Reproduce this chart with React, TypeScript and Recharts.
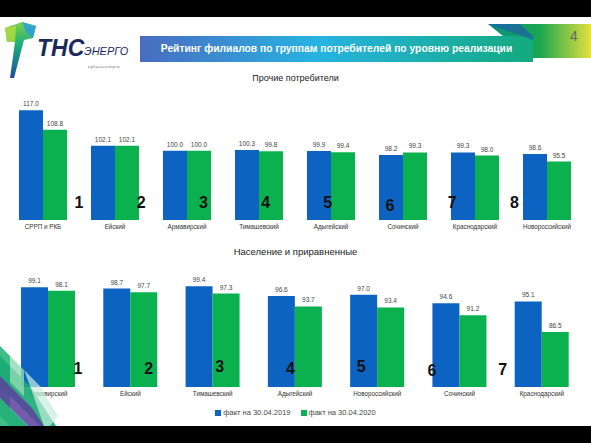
import { BarChart, Bar, XAxis, YAxis, LabelList } from "recharts";

// Прочие потребители
const otherBranches = [
  "СРРП и РКБ",
  "Ейский",
  "Армавирский",
  "Тимашевский",
  "Адыгейский",
  "Сочинский",
  "Краснодарский",
  "Новороссийский",
];
const other2019 = [117.0, 102.1, 100.0, 100.3, 99.9, 98.2, 99.3, 98.6];
const other2020 = [108.8, 102.1, 100.0, 99.8, 99.4, 99.3, 98.0, 95.5];
const otherRanks = ["1", "2", "3", "4", "5", "6", "7", "8"];

// Население и приравненные
const popBranches = [
  "Армавирский",
  "Ейский",
  "Тимашевский",
  "Адыгейский",
  "Новороссийский",
  "Сочинский",
  "Краснодарский",
];
const pop2019 = [99.1, 98.7, 99.4, 96.6, 97.0, 94.6, 95.1];
const pop2020 = [98.1, 97.7, 97.3, 93.7, 93.4, 91.2, 86.5];
const popRanks = ["1", "2", "3", "4", "5", "6", "7"];

const seriesNames = ["факт на 30.04.2019", "факт на 30.04.2020"];

const BLUE = "#0d63c2";
const GREEN = "#0bb04f";
const FONT = "Arial, 'Liberation Sans', sans-serif";

const otherData = otherBranches.map((name, i) => ({
  name,
  y2019: other2019[i],
  y2020: other2020[i],
}));
const popData = popBranches.map((name, i) => ({
  name,
  y2019: pop2019[i],
  y2020: pop2020[i],
}));

const fmt = (v: unknown) => Number(v).toFixed(1);

function GroupChart({
  data,
  width,
  height,
  top,
  domain,
  barSize,
}: {
  data: { name: string; y2019: number; y2020: number }[];
  width: number;
  height: number;
  top: number;
  domain: [number, number];
  barSize: number;
}) {
  return (
    <BarChart
      width={width}
      height={height}
      data={data}
      margin={{ top, right: 8, left: 7, bottom: 0 }}
      barGap={0}
    >
      <XAxis
        dataKey="name"
        axisLine={false}
        tickLine={false}
        tickSize={3}
        interval={0}
        height={20}
        tick={{ fontSize: 6.3, fill: "#333", fontFamily: FONT }}
      />
      <YAxis hide domain={domain} allowDataOverflow />
      <Bar dataKey="y2019" fill={BLUE} barSize={barSize} isAnimationActive={false}>
        <LabelList
          dataKey="y2019"
          position="top"
          offset={4}
          formatter={fmt}
          style={{ fontSize: 6.5, fill: "#444", fontFamily: FONT }}
        />
      </Bar>
      <Bar dataKey="y2020" fill={GREEN} barSize={barSize} isAnimationActive={false}>
        <LabelList
          dataKey="y2020"
          position="top"
          offset={4}
          formatter={fmt}
          style={{ fontSize: 6.5, fill: "#444", fontFamily: FONT }}
        />
      </Bar>
    </BarChart>
  );
}

const rankStyle: React.CSSProperties = {
  position: "absolute",
  fontFamily: FONT,
  fontWeight: "bold",
  fontSize: 16,
  color: "#111",
  transform: "translate(-50%, -50%)",
  lineHeight: 1,
};

export default function App() {
  const otherRankY = [203, 203, 203, 203, 203, 206, 203, 203];
  const popRankY = [369, 369, 367, 369, 367, 371, 370];

  return (
    <div
      style={{
        position: "relative",
        width: 591,
        height: 443,
        background: "#fff",
        overflow: "hidden",
        fontFamily: FONT,
      }}
    >
      <style>{`body{margin:0}`}</style>

      {/* header decoration */}
      <svg width={591} height={443} style={{ position: "absolute", left: 0, top: 0 }}>
        <defs>
          <linearGradient id="banner" x1="0" x2="1" y1="0" y2="0">
            <stop offset="0" stopColor="#4a6cc0" />
            <stop offset="0.45" stopColor="#27b3e2" />
            <stop offset="1" stopColor="#13aa7e" />
          </linearGradient>
          <linearGradient id="corner" x1="0" x2="1" y1="0" y2="0">
            <stop offset="0" stopColor="#0f8e86" />
            <stop offset="0.5" stopColor="#19a650" />
            <stop offset="1" stopColor="#e6df3e" />
          </linearGradient>
          <linearGradient id="logo" x1="0" x2="0" y1="0" y2="1">
            <stop offset="0" stopColor="#7fd04a" />
            <stop offset="0.4" stopColor="#1bb07a" />
            <stop offset="1" stopColor="#1d4f9c" />
          </linearGradient>
        </defs>
        <polygon points="488,24 591,24 591,58 530,58" fill="url(#corner)" />
        <polygon points="140,36 533,36 533,62 140,62" fill="url(#banner)" />
        <polygon points="488,24 520,24 533,36 533,40" fill="#1c5fa8" opacity={0.7} />
        {/* logo mark */}
        <polygon points="5,28 22,22 36,26 33,38 24,40 14,78 10,78 15,42 7,42" fill="url(#logo)" />
        <polygon points="22,22 36,26 33,38 26,32" fill="#2a9ee0" opacity={0.85} />
        <polygon points="5,28 16,26 15,42 7,42" fill="#b6dd3c" opacity={0.8} />
      </svg>

      <div
        style={{
          position: "absolute",
          left: 140,
          top: 36,
          width: 393,
          height: 26,
          lineHeight: "26px",
          textAlign: "center",
          color: "#fff",
          fontWeight: "bold",
          fontSize: 10.3,
        }}
      >
        Рейтинг филиалов по группам потребителей по уровню реализации
      </div>
      <div style={{ position: "absolute", left: 570, top: 28, fontSize: 14, color: "#666" }}>4</div>

      <div
        style={{
          position: "absolute",
          left: 37,
          top: 37,
          fontSize: 23,
          fontWeight: "bold",
          fontStyle: "italic",
          color: "#1b2a5c",
          lineHeight: 1,
        }}
      >
        ТНС
      </div>
      <div
        style={{
          position: "absolute",
          left: 84,
          top: 46,
          fontSize: 11,
          fontStyle: "italic",
          color: "#1b2a5c",
          lineHeight: 1,
        }}
      >
        ЭНЕРГО
      </div>
      <div
        style={{
          position: "absolute",
          left: 88,
          top: 65,
          fontSize: 4,
          color: "#666",
          letterSpacing: 0.6,
          lineHeight: 1,
        }}
      >
        кубаньэнерго
      </div>

      {/* black frame */}
      <div style={{ position: "absolute", left: 0, top: 0, width: 591, height: 17, background: "#000" }} />
      <div style={{ position: "absolute", left: 0, top: 426, width: 591, height: 17, background: "#000" }} />

      {/* top chart */}
      <div
        style={{
          position: "absolute",
          left: 0,
          top: 73,
          width: 591,
          textAlign: "center",
          fontSize: 9,
          color: "#222",
        }}
      >
        Прочие потребители
      </div>
      <div style={{ position: "absolute", left: 0, top: 0 }}>
        <GroupChart data={otherData} width={591} height={240} top={103} domain={[71, 120]} barSize={24} />
      </div>
      {otherRanks.map((r, i) => (
        <div key={`o${r}`} style={{ ...rankStyle, left: 79 + i * 62.2, top: otherRankY[i] }}>
          {r}
        </div>
      ))}

      {/* bottom chart */}
      <div
        style={{
          position: "absolute",
          left: 0,
          top: 246,
          width: 591,
          textAlign: "center",
          fontSize: 9.5,
          color: "#222",
        }}
      >
        Население и приравненные
      </div>
      <div style={{ position: "absolute", left: 0, top: 240 }}>
        <GroupChart data={popData} width={591} height={167} top={44} domain={[71, 100]} barSize={27} />
      </div>
      {popRanks.map((r, i) => (
        <div key={`p${r}`} style={{ ...rankStyle, left: 78 + i * 70.8, top: popRankY[i] }}>
          {r}
        </div>
      ))}

      {/* legend */}
      <div
        style={{
          position: "absolute",
          left: 0,
          top: 407,
          width: 591,
          display: "flex",
          justifyContent: "center",
          gap: 10,
          fontSize: 7.5,
          color: "#444",
          lineHeight: "12px",
        }}
      >
        {seriesNames.map((s, i) => (
          <span key={s} style={{ display: "flex", alignItems: "center" }}>
            <span
              style={{
                display: "inline-block",
                width: 6,
                height: 6,
                marginRight: 2,
                background: i === 0 ? BLUE : GREEN,
              }}
            />
            {s}
          </span>
        ))}
      </div>

      {/* bottom-left decoration */}
      <svg width={70} height={80} style={{ position: "absolute", left: 0, top: 346 }}>
        <polygon points="0,0 10,10 10,80 0,80" fill="#3fbf85" />
        <polygon points="0,10 30,40 56,80 40,80 0,40" fill="#1aa877" opacity={0.9} />
        <polygon points="10,10 24,24 24,50 10,36" fill="#8fd9b4" opacity={0.8} />
        <polygon points="0,30 32,62 44,80 28,80 0,52" fill="#5a3f9e" opacity={0.85} />
        <polygon points="0,52 28,80 10,80 0,70" fill="#27b07a" />
        <polygon points="24,24 40,40 58,70 50,80 44,80 30,40" fill="#c8eedb" opacity={0.7} />
      </svg>
    </div>
  );
}
